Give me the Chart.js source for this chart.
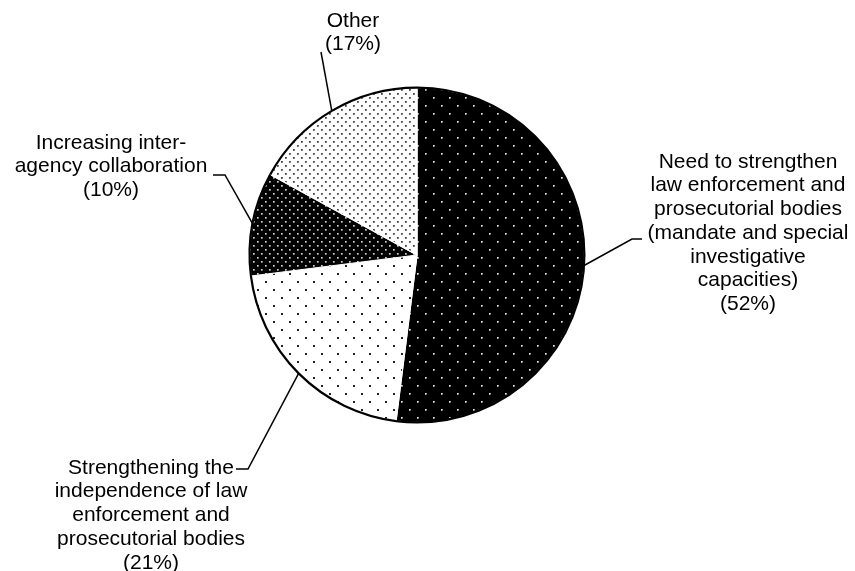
<!DOCTYPE html>
<html>
<head>
<meta charset="utf-8">
<script src="https://cdn.jsdelivr.net/npm/chart.js@4"></script>
<style>
  body { margin: 0; background: #fff; }
  canvas { display: block; }
</style>
</head>
<body>
<canvas id="pieChart" width="855" height="571"></canvas>
<script>
// data
const categories = [
    ['Need to strengthen', 'law enforcement and', 'prosecutorial bodies', '(mandate and special', 'investigative', 'capacities)'],
    ['Strengthening the', 'independence of law', 'enforcement and', 'prosecutorial bodies'],
    ['Increasing inter-', 'agency collaboration'],
    ['Other']
];
const shares = [52, 21, 10, 17];

// label layout (text centre x, first line y, leader line bend points)
const labelX = [748, 151, 111, 353];
const labelY = [162, 468, 143, 21];
const leaderPts = [
    [[632, 239], [642, 239]],
    [[248, 469], [236, 469]],
    [[225, 175], [213, 175]],
    [[321, 52]]
];

function makePattern(size, bg, dot, dotSize) {
    const c = document.createElement('canvas');
    c.width = size;
    c.height = size;
    const g = c.getContext('2d');
    g.fillStyle = bg;
    g.fillRect(0, 0, size, size);
    g.fillStyle = dot;
    const h = size / 2;
    g.fillRect(1, 1, dotSize, dotSize);
    g.fillRect(1 + h, 1 + h, dotSize, dotSize);
    return g.createPattern(c, 'repeat');
}

const fills = [
    makePattern(16, '#000', '#e8e8e8', 1.7),
    makePattern(16, '#fff', '#222', 2),
    makePattern(8, '#000', '#d0d0d0', 1.7),
    makePattern(8, '#fff', '#444', 1.8)
];

const labelPlugin = {
    id: 'pieLabels',
    afterDatasetsDraw(chart) {
        const ctx = chart.ctx;
        const arcs = chart.getDatasetMeta(0).data;
        ctx.save();
        arcs.forEach((arc, i) => {
            const p = arc.getProps(['x', 'y', 'startAngle', 'endAngle', 'outerRadius'], true);
            // outer rim
            ctx.beginPath();
            ctx.arc(p.x, p.y, p.outerRadius, p.startAngle, p.endAngle);
            ctx.strokeStyle = '#000';
            ctx.lineWidth = 2.2;
            ctx.stroke();

            // leader line
            const mid = (p.startAngle + p.endAngle) / 2;
            ctx.beginPath();
            ctx.moveTo(p.x + Math.cos(mid) * p.outerRadius, p.y + Math.sin(mid) * p.outerRadius);
            leaderPts[i].forEach(pt => ctx.lineTo(pt[0], pt[1]));
            ctx.lineWidth = 1.5;
            ctx.stroke();

            // text
            const lines = categories[i].concat(['(' + shares[i] + '%)']);
            ctx.fillStyle = '#000';
            ctx.font = '21px "Liberation Sans", Arial, sans-serif';
            ctx.textAlign = 'center';
            ctx.textBaseline = 'middle';
            lines.forEach((t, k) => ctx.fillText(t, labelX[i], labelY[i] + k * 23.7));
        });
        ctx.restore();
    }
};

new Chart(document.getElementById('pieChart').getContext('2d'), {
    type: 'pie',
    data: {
        labels: categories.map(c => c.join(' ')),
        datasets: [{
            data: shares,
            backgroundColor: fills,
            borderColor: '#fff',
            borderWidth: 1.2
        }]
    },
    options: {
        responsive: false,
        animation: false,
        devicePixelRatio: 1,
        layout: {
            padding: { left: 249, right: 270, top: 87, bottom: 148 }
        },
        plugins: {
            legend: { display: false },
            tooltip: { enabled: false }
        }
    },
    plugins: [labelPlugin]
});
</script>
</body>
</html>
